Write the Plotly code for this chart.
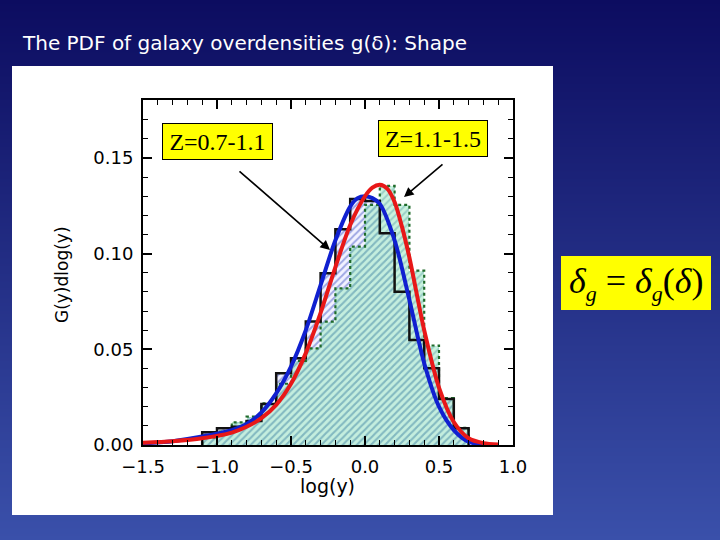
import base64, struct, zlib
import plotly.graph_objects as go

# ---------------- data ----------------
bin_edges = [-1.1, -1.0, -0.9, -0.8, -0.7, -0.6, -0.5, -0.4, -0.3, -0.2, -0.1,
             0.0, 0.1, 0.2, 0.3, 0.4, 0.5, 0.6, 0.7]
hist_z07 = [0.0066, 0.0087, 0.0095, 0.0125, 0.0214, 0.0375, 0.0453, 0.0645, 0.0897,
            0.1127, 0.1286, 0.1275, 0.1106, 0.0801, 0.0549, 0.0401, 0.0240, 0.0087]
hist_z11 = [0.0040, 0.0070, 0.0118, 0.0148, 0.0218, 0.0320, 0.0440, 0.0505, 0.0645,
            0.0819, 0.1037, 0.1255, 0.1354, 0.1255, 0.0911, 0.0520, 0.0245, 0.0090]

fit_x_red = [-1.5, -1.3, -1.1, -0.9, -0.8, -0.7, -0.6, -0.5, -0.4, -0.3, -0.2, -0.1,
             0.0, 0.05, 0.1, 0.15, 0.2, 0.25, 0.3, 0.4, 0.5, 0.6, 0.7, 0.8, 0.9]
fit_z11 = [0.0012, 0.0020, 0.0035, 0.0065, 0.0095, 0.0140, 0.0210, 0.0320, 0.0480,
           0.0690, 0.0930, 0.1150, 0.1300, 0.1345, 0.1360, 0.1340, 0.1270, 0.1140,
           0.0980, 0.0600, 0.0300, 0.0120, 0.0035, 0.0010, 0.0003]

fit_x_blue = [-1.5, -1.3, -1.1, -0.9, -0.8, -0.7, -0.6, -0.5, -0.4, -0.3, -0.2, -0.1,
              -0.05, 0.0, 0.05, 0.1, 0.2, 0.3, 0.4, 0.5, 0.6, 0.7, 0.8]
fit_z07 = [0.0008, 0.0020, 0.0044, 0.0078, 0.0110, 0.0170, 0.0270, 0.0410, 0.0600,
           0.0836, 0.1070, 0.1246, 0.1290, 0.1300, 0.1290, 0.1260, 0.1070, 0.0758,
           0.0427, 0.0200, 0.0078, 0.0017, 0.0002]

x_tickvals = [-1.5, -1.0, -0.5, 0.0, 0.5, 1.0]
x_ticktext = ["\u22121.5", "\u22121.0", "\u22120.5", "0.0", "0.5", "1.0"]
y_tickvals = [0.00, 0.05, 0.10, 0.15]
y_ticktext = ["0.00", "0.05", "0.10", "0.15"]

title_text = "The PDF of galaxy overdensities g(\u03b4): Shape"
label_a = "Z=0.7-1.1"
label_b = "Z=1.1-1.5"

# ---------------- geometry helpers ----------------
W, H = 720, 540
L, R, T, B = 143, 513, 100, 445


def px(x):
    return (x - L) / (R - L)


def py(y):
    return (B - y) / (B - T)


def gradient_png(h, top, bot):
    rows = []
    for i in range(h):
        f = i / (h - 1)
        c = bytes(int(round(top[k] + (bot[k] - top[k]) * f)) for k in range(3))
        rows.append(b"\x00" + c * 2)
    raw = b"".join(rows)

    def chunk(t, d):
        return struct.pack(">I", len(d)) + t + d + struct.pack(">I", zlib.crc32(t + d) & 0xffffffff)

    png = b"\x89PNG\r\n\x1a\n" + chunk(b"IHDR", struct.pack(">IIBBBBB", 2, h, 8, 2, 0, 0, 0)) \
        + chunk(b"IDAT", zlib.compress(raw)) + chunk(b"IEND", b"")
    return "data:image/png;base64," + base64.b64encode(png).decode()


centers = [(bin_edges[i] + bin_edges[i + 1]) / 2 for i in range(len(hist_z07))]
widths = [bin_edges[i + 1] - bin_edges[i] for i in range(len(hist_z07))]

fig = go.Figure()

# hatched fills
fig.add_trace(go.Bar(
    x=centers, y=hist_z07, width=widths,
    marker=dict(color="#f2f2ff", line=dict(width=0),
                pattern=dict(shape="/", fgcolor="#4a5cc8", bgcolor="#f2f2ff",
                             size=5, solidity=0.4)),
    showlegend=False, hoverinfo="skip"))
fig.add_trace(go.Bar(
    x=centers, y=hist_z11, width=widths,
    marker=dict(color="rgba(165,235,200,0.6)", line=dict(width=0),
                pattern=dict(shape="/", fgcolor="rgba(75,145,160,0.75)",
                             bgcolor="rgba(165,235,200,0.6)", size=5, solidity=0.4)),
    showlegend=False, hoverinfo="skip"))

# step outlines
fig.add_trace(go.Scatter(
    x=[bin_edges[0]] + bin_edges, y=[0] + hist_z11 + [0],
    mode="lines", line=dict(shape="hv", color="#1f6b2a", width=2.2, dash="dot"),
    showlegend=False, hoverinfo="skip"))
fig.add_trace(go.Scatter(
    x=[bin_edges[0]] + bin_edges, y=[0] + hist_z07 + [0],
    mode="lines", line=dict(shape="hv", color="#111111", width=2.5),
    showlegend=False, hoverinfo="skip"))

# fitted curves
fig.add_trace(go.Scatter(
    x=fit_x_blue, y=fit_z07, mode="lines",
    line=dict(color="#1020d0", width=4, shape="spline", smoothing=0.8),
    showlegend=False, hoverinfo="skip"))
fig.add_trace(go.Scatter(
    x=fit_x_red, y=fit_z11, mode="lines",
    line=dict(color="#e81818", width=4, shape="spline", smoothing=0.8),
    showlegend=False, hoverinfo="skip"))

axis_font = dict(family="DejaVu Sans", size=18, color="black")

fig.update_layout(
    width=W, height=H, autosize=False,
    margin=dict(l=L, r=W - R, t=T, b=H - B, pad=0),
    paper_bgcolor="#23307f", plot_bgcolor="white",
    barmode="overlay", bargap=0,
    xaxis=dict(range=[-1.5, 1.0], tickvals=x_tickvals, ticktext=x_ticktext,
               ticks="inside", ticklen=9, tickwidth=1.5, tickcolor="black",
               minor=dict(dtick=0.1, tick0=0, ticks="inside", ticklen=5, tickwidth=1.2,
                          tickcolor="black", showgrid=False),
               showline=True, linecolor="black", linewidth=2, mirror="ticks",
               showgrid=False, zeroline=False, tickfont=axis_font,
               ticklabelstandoff=4),
    yaxis=dict(range=[0, 0.1803], tickvals=y_tickvals, ticktext=y_ticktext,
               ticks="inside", ticklen=9, tickwidth=1.5, tickcolor="black",
               minor=dict(dtick=0.01, tick0=0, ticks="inside", ticklen=5, tickwidth=1.2,
                          tickcolor="black", showgrid=False),
               showline=True, linecolor="black", linewidth=2, mirror="ticks",
               showgrid=False, zeroline=False, tickfont=axis_font,
               ticklabelstandoff=4),
    images=[dict(source=gradient_png(540, (12, 12, 96), (58, 80, 170)),
                 xref="paper", yref="paper", x=px(0), y=py(0),
                 sizex=px(W) - px(0), sizey=py(0) - py(H),
                 xanchor="left", yanchor="top", sizing="stretch", layer="below")],
    shapes=[
        dict(type="rect", xref="paper", yref="paper", layer="below",
             x0=px(12), x1=px(553), y0=py(515), y1=py(66),
             fillcolor="white", line=dict(width=0)),
        dict(type="rect", xref="paper", yref="paper",
             x0=px(561), x1=px(711), y0=py(310), y1=py(256),
             fillcolor="#ffff00", line=dict(width=0)),
    ],
)

annos = [
    dict(text=title_text, x=px(20), y=py(43), xanchor="left", yanchor="middle",
         font=dict(family="DejaVu Sans", size=20, color="white")),
    dict(text="G(y)dlog(y)", x=px(62), y=py(275), textangle=-90,
         xanchor="center", yanchor="middle",
         font=dict(family="DejaVu Sans", size=17, color="black")),
    dict(text="log(y)", x=px(327), y=py(486), xanchor="center", yanchor="middle",
         font=dict(family="DejaVu Sans", size=19, color="black")),
    dict(text=label_a, x=px(217.5), y=py(141.5), xanchor="center", yanchor="middle",
         width=109, height=35, bgcolor="#ffff00", bordercolor="black", borderwidth=1,
         borderpad=0, font=dict(family="Liberation Serif", size=24, color="black")),
    dict(text=label_b, x=px(433), y=py(138.5), xanchor="center", yanchor="middle",
         width=108, height=35, bgcolor="#ffff00", bordercolor="black", borderwidth=1,
         borderpad=0, font=dict(family="Liberation Serif", size=24, color="black")),
    dict(text="", x=px(330), y=py(250), ax=-92, ay=-80, showarrow=True,
         arrowhead=2, arrowsize=1.2, arrowwidth=1.6, arrowcolor="black"),
    dict(text="", x=px(404), y=py(197), ax=40, ay=-34, showarrow=True,
         arrowhead=2, arrowsize=1.2, arrowwidth=1.6, arrowcolor="black"),
    dict(text="<i>\u03b4</i><sub><i><span style='font-size:22px'>g</span></i></sub> = "
              "<i>\u03b4</i><sub><i><span style='font-size:22px'>g</span></i></sub>(<i>\u03b4</i>)",
         x=px(636), y=py(283), xanchor="center", yanchor="middle",
         font=dict(family="Liberation Serif", size=36, color="black")),
]
for a in annos:
    a.setdefault("xref", "paper")
    a.setdefault("yref", "paper")
    a.setdefault("showarrow", False)
    fig.add_annotation(**a)

fig.write_html("out.html", config={"displayModeBar": False},
               post_script="document.body.style.margin='0';document.body.style.padding='0';")
